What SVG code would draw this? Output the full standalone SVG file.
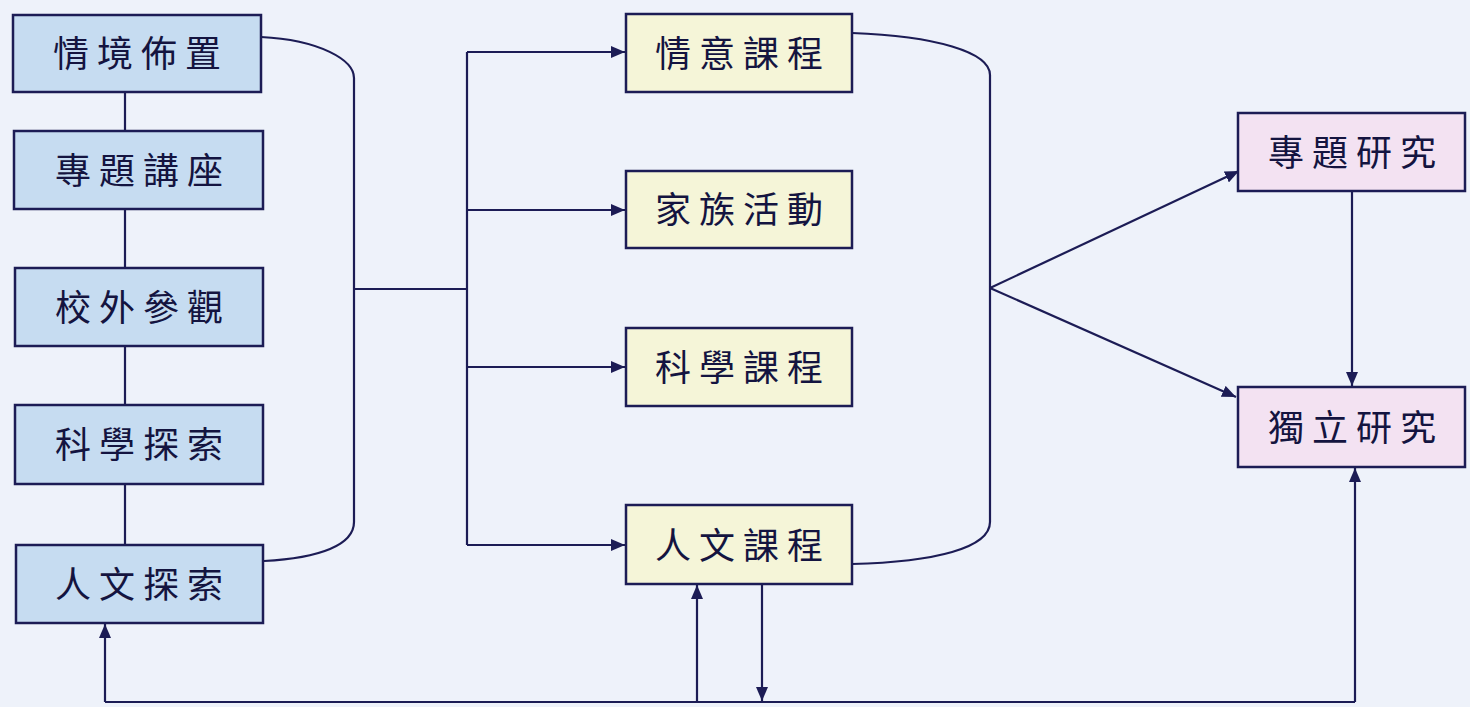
<svg xmlns="http://www.w3.org/2000/svg" width="1470" height="707" viewBox="0 0 1470 707">
<defs>
<marker id="arr" viewBox="0 0 14 12" refX="14" refY="6" markerWidth="14" markerHeight="12" markerUnits="userSpaceOnUse" orient="auto">
<path d="M0,0 L14,6 L0,12 Z" fill="#1c1c55"/>
</marker>
<style>
.box{stroke:#1c1c55;stroke-width:2.5}
.blue{fill:#c6dcf1}
.yel{fill:#f5f5d8}
.pink{fill:#f3e2f2}
.t{font-family:"Noto Sans CJK TC","Noto Sans CJK SC",sans-serif;font-size:36px;font-weight:400;fill:#141440;text-anchor:middle;letter-spacing:8px}
.ln{fill:none;stroke:#1c1c55;stroke-width:2.2}
.ar{fill:none;stroke:#1c1c55;stroke-width:2.2;marker-end:url(#arr)}
</style>
</defs>
<rect width="1470" height="707" fill="#eef2fa"/>
<g id="connectors">
<path class="ln" d="M125,92 V131 M125,209 V268 M125,346 V405 M125,484 V545"/>
<path class="ln" d="M261,37 C320,40 354,60 354,78 V522 C354,545 320,558 264,561"/>
<path class="ln" d="M354,289 H467 M467,52 V545"/>
<path class="ar" d="M467,52 H625"/>
<path class="ar" d="M467,210 H625"/>
<path class="ar" d="M467,367 H625"/>
<path class="ar" d="M467,545 H625"/>
<path class="ln" d="M852,33 C935,36 990,52 990,75 V522 C990,548 935,562 852,564"/>
<path class="ar" d="M990,288 L1239,171"/>
<path class="ar" d="M990,288 L1236,397"/>
<path class="ar" d="M1352,191 V386"/>
<path class="ln" d="M105,702 H1355"/>
<path class="ar" d="M105,702 V624"/>
<path class="ar" d="M1355,702 V468"/>
<path class="ar" d="M697,702 V585"/>
<path class="ar" d="M762,585 V701"/>
</g>
<g id="n1"><rect class="box blue" x="13" y="15" width="248" height="77"/><text class="t" x="141" y="67">情境佈置</text></g>
<g id="n2"><rect class="box blue" x="14" y="131" width="249" height="78"/><text class="t" x="143" y="184">專題講座</text></g>
<g id="n3"><rect class="box blue" x="15" y="268" width="248" height="78"/><text class="t" x="143" y="321">校外參觀</text></g>
<g id="n4"><rect class="box blue" x="15" y="405" width="248" height="79"/><text class="t" x="143" y="458">科學探索</text></g>
<g id="n5"><rect class="box blue" x="16" y="545" width="247" height="78"/><text class="t" x="143" y="598">人文探索</text></g>
<g id="m1"><rect class="box yel" x="626" y="14" width="226" height="78"/><text class="t" x="743" y="67">情意課程</text></g>
<g id="m2"><rect class="box yel" x="626" y="171" width="226" height="77"/><text class="t" x="743" y="223">家族活動</text></g>
<g id="m3"><rect class="box yel" x="626" y="328" width="226" height="78"/><text class="t" x="743" y="381">科學課程</text></g>
<g id="m4"><rect class="box yel" x="626" y="505" width="226" height="79"/><text class="t" x="743" y="559">人文課程</text></g>
<g id="r1"><rect class="box pink" x="1238" y="113" width="227" height="78"/><text class="t" x="1356" y="166">專題研究</text></g>
<g id="r2"><rect class="box pink" x="1238" y="387" width="227" height="80"/><text class="t" x="1356" y="441">獨立研究</text></g>
</svg>
